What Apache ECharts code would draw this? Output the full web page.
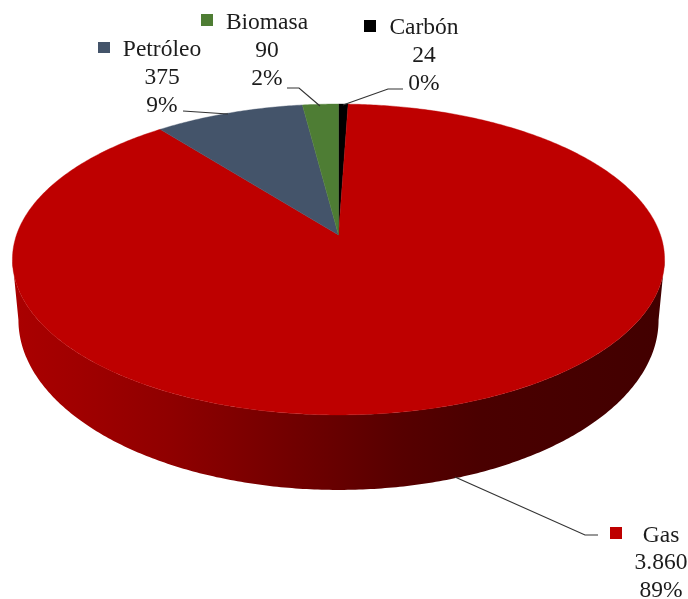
<!DOCTYPE html>
<html>
<head>
<meta charset="utf-8">
<style>html,body{margin:0;padding:0;background:#fff}#c{width:688px;height:599px}</style>
<script src="https://cdn.jsdelivr.net/npm/echarts@6/dist/echarts.min.js"></script>
</head>
<body>
<div id="c"></div>
<script>
// Data, clockwise from twelve o'clock
var categories = ['Carbón', 'Gas', 'Petróleo', 'Biomasa'];
var values = [24, 3860, 375, 90];
var valueLabels = ['24', '3.860', '375', '90'];
var percentLabels = ['0%', '89%', '9%', '2%'];

// Styles
var sliceColors = ['#000000', '#BE0000', '#44546A', '#4E7D34'];
var textColor = '#1c1c1c', leaderColor = '#333333';
var FONT = '"Liberation Serif", serif';

// Label layout, same order as categories
var labelLayouts = [
  { x: 424, y: [28, 56, 84], key: [364, 20, 12, 12], leader: [[403, 89], [388, 89], [343, 105]] },
  { x: 661, y: [536, 563, 591], key: [610, 527, 12, 12], leader: [[598, 535], [585, 535], [455, 477]] },
  { x: 162, y: [50, 78, 106], key: [98, 42, 12, 11], leader: [[183, 111], [228, 114]] },
  { x: 267, y: [23, 51, 79], key: [201, 14, 12, 12], leader: [[287, 88], [299, 88], [320, 106]] }
];

// Perspective of the disc
var CX = 338.5, APEX_Y = 235, K = 0.1575, B = 151.6, A = 322;
var RIM_CY = 259.5, LOW_CY = 320, LOW_SX = 320 / 326, LOW_SY = 170 / 155.5;
var TWO_PI = Math.PI * 2;
var total = values.reduce(function (a, b) { return a + b; }, 0);

function topPoint(t) {
  var w = 1 + K * Math.cos(t);
  return [CX + A * Math.sin(t) / w, APEX_Y - B * Math.cos(t) / w];
}
function lowPoint(t) {
  var p = topPoint(t);
  return [CX + (p[0] - CX) * LOW_SX, LOW_CY + (p[1] - RIM_CY) * LOW_SY];
}
function arc(fn, a, b) {
  var n = Math.max(2, Math.ceil(Math.abs(b - a) / 0.01)), pts = [];
  for (var i = 0; i <= n; i++) pts.push(fn(a + (b - a) * i / n));
  return pts;
}
var wallGradient = {
  type: 'linear', x: 0, y: 0, x2: 1, y2: 0,
  colorStops: [
    { offset: 0, color: '#aa0000' },
    { offset: 0.1, color: '#a00000' },
    { offset: 0.25, color: '#8e0000' },
    { offset: 0.45, color: '#6e0000' },
    { offset: 0.6, color: '#560000' },
    { offset: 0.72, color: '#4a0000' },
    { offset: 1, color: '#420000' }
  ]
};

function renderItem(params, api) {
  var i = params.dataIndex;
  var before = 0;
  for (var j = 0; j < i; j++) before += values[j];
  var start = before / total * TWO_PI;
  var end = start + api.value(0) / total * TWO_PI;
  var color = sliceColors[i];
  var children = [];

  // front wall, only the part of the slice that faces the viewer
  var frontA = Math.acos(-K), frontB = TWO_PI - frontA;
  var a = Math.max(start, frontA), b = Math.min(end, frontB);
  if (b > a) {
    var wall = arc(topPoint, a, b).concat(arc(lowPoint, b, a));
    children.push({
      type: 'polygon', shape: { points: wall },
      style: { fill: wallGradient }
    });
  }
  // top face
  var face = [[CX, APEX_Y]].concat(arc(topPoint, start, end));
  children.push({
    type: 'polygon', shape: { points: face },
    style: { fill: color, stroke: color, lineWidth: 0.4 }
  });
  return { type: 'group', children: children };
}

function renderLabels() {
  var elements = [];
  categories.forEach(function (name, i) {
    var L = labelLayouts[i];
    [name, valueLabels[i], percentLabels[i]].forEach(function (t, r) {
      elements.push({
        type: 'text', z: 10, silent: true,
        style: { x: L.x, y: L.y[r], text: t, fill: textColor, font: '23.5px ' + FONT, textAlign: 'center', textVerticalAlign: 'middle' }
      });
    });
    elements.push({
      type: 'rect', z: 10, silent: true,
      shape: { x: L.key[0], y: L.key[1], width: L.key[2], height: L.key[3] },
      style: { fill: sliceColors[i] }
    });
    elements.push({
      type: 'polyline', z: 10, silent: true,
      shape: { points: L.leader },
      style: { stroke: leaderColor, lineWidth: 1.2, fill: null }
    });
  });
  return elements;
}

var chart = echarts.init(document.getElementById('c'), null, { renderer: 'canvas', width: 688, height: 599 });
chart.setOption({
  animation: false,
  backgroundColor: '#ffffff',
  graphic: { elements: renderLabels() },
  series: [{
    type: 'custom',
    coordinateSystem: 'none',
    silent: true,
    renderItem: renderItem,
    data: categories.map(function (name, i) { return { name: name, value: [values[i]] }; })
  }]
});
</script>
</body>
</html>
